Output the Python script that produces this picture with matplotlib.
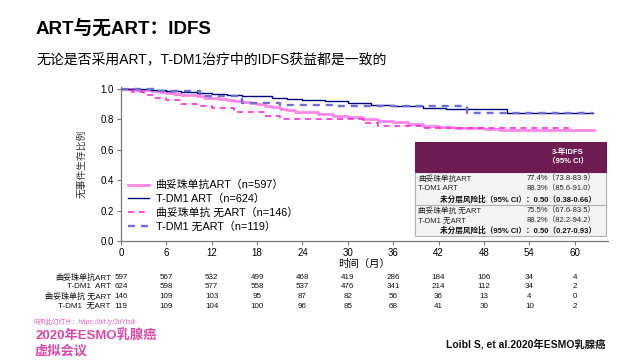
"""
ART与无ART：IDFS 生存曲线重绘
"""
import matplotlib
matplotlib.use("Agg")
import matplotlib.pyplot as plt
from matplotlib.patches import Rectangle
from matplotlib.lines import Line2D

plt.rcParams['font.family'] = ['Liberation Sans', 'Noto Sans CJK SC', 'DejaVu Sans']

# 曲线数据（从图中读取，阶梯函数）
t_tras_art = [0, 1, 2, 3, 4, 5, 6, 7, 8, 9, 10, 11, 12, 13, 14, 15, 16, 17, 18,
              19, 20, 21, 22, 23, 24, 26, 28, 30, 32, 34, 36, 38, 40, 42, 44, 46, 48, 50, 62.6]
s_tras_art = [1.0, .996, .992, .988, .983, .977, .970, .965, .960, .955, .948, .940, .935,
              .930, .925, .918, .910, .904, .898, .888, .878, .866, .856, .848, .843, .832,
              .822, .815, .802, .790, .778, .766, .756, .748, .740, .738, .733, .727, .727]

t_tdm1_art = [0, 2, 4, 6, 8, 10, 12, 14, 16, 18, 20, 22, 24, 27, 30, 33, 36, 40, 43, 46, 51, 62.4]
s_tdm1_art = [1.0, .995, .99, .985, .98, .972, .966, .960, .954, .948, .940, .932, .925,
              .915, .905, .895, .886, .874, .868, .864, .838, .838]

t_tras_noart = [0, 1.5, 3, 4.5, 6, 8, 10, 12, 15, 19, 21, 32, 34, 40, 59.3]
s_tras_noart = [1.0, .98, .957, .94, .924, .898, .885, .87, .843, .82, .798, .773, .757, .74, .74]

t_tdm1_noart = [0, 5, 10.5, 16, 21, 28, 45.7, 62.4]
s_tdm1_noart = [1.0, .985, .95, .907, .89, .884, .84, .84]

legend_labels = ["曲妥珠单抗ART（n=597）", "T-DM1 ART（n=624）",
                 "曲妥珠单抗 无ART（n=146）", "T-DM1 无ART（n=119）"]

x_ticks = [0, 6, 12, 18, 24, 30, 36, 42, 48, 54, 60]
risk_labels = ["曲妥珠单抗ART", "T-DM1  ART", "曲妥珠单抗 无ART", "T-DM1  无ART"]
risk_counts = [
    [597, 567, 532, 499, 468, 419, 286, 184, 106, 34, 4],
    [624, 598, 577, 558, 537, 476, 341, 214, 112, 34, 2],
    [146, 109, 103, 95, 87, 82, 56, 36, 13, 4, 0],
    [119, 109, 104, 100, 96, 85, 68, 41, 30, 10, 2],
]

table_rows = [
    ("曲妥珠单抗ART", "77.4%（73.8-83.9）"),
    ("T-DM1 ART", "88.3%（85.6-91.0）"),
    ("曲妥珠单抗 无ART", "75.5%（67.6-83.5）"),
    ("T-DM1 无ART", "88.2%（82.2-94.2）"),
]
hr_rows = ["未分层风险比（95% CI）：0.50（0.38-0.66）",
           "未分层风险比（95% CI）：0.50（0.27-0.93）"]

W, H = 640, 360


def fx(px):
    return px / W


def fy(py):
    return 1 - py / H


fig = plt.figure(figsize=(6.4, 3.6), dpi=100)
fig.patch.set_facecolor("white")

# 标题
fig.text(fx(36), fy(29), "ART与无ART：IDFS", fontsize=13.5, fontweight="bold",
         va="center", ha="left")
fig.text(fx(36), fy(59), "无论是否采用ART，T-DM1治疗中的IDFS获益都是一致的",
         fontsize=10, va="center", ha="left")

ax = fig.add_axes([fx(121), fy(241), fx(608) - fx(121), fy(87) - fy(241)])

c_tras_art = "#ff86e6"
c_tdm1_art = "#00007a"
c_tras_noart = "#f51fd6"
c_tdm1_noart = "#6e6ed2"

ax.step(t_tras_art, s_tras_art, where="post", color=c_tras_art, lw=2.0)
ax.step(t_tdm1_art, s_tdm1_art, where="post", color=c_tdm1_art, lw=1.0)
ax.step(t_tras_noart, s_tras_noart, where="post", color=c_tras_noart, lw=1.1,
        linestyle=(0, (4, 3)))
ax.step(t_tdm1_noart, s_tdm1_noart, where="post", color=c_tdm1_noart, lw=1.7,
        linestyle=(0, (3, 2.5)))

ax.set_xlim(0, 64.4)
ax.set_ylim(0, 1.01)
ax.set_xticks(x_ticks)
ax.set_yticks([0, 0.2, 0.4, 0.6, 0.8, 1.0])
ax.set_yticklabels(["0.0", "0.2", "0.4", "0.6", "0.8", "1.0"])
ax.tick_params(labelsize=7, length=3, width=0.8, color="#777777", pad=2)
for side in ["top", "right"]:
    ax.spines[side].set_visible(False)
for side in ["left", "bottom"]:
    ax.spines[side].set_color("#777777")
    ax.spines[side].set_linewidth(0.9)
ax.set_xlabel("时间（月）", fontsize=7.5, labelpad=1)
ax.set_ylabel("无事件生存比例", fontsize=7, color="#333333", labelpad=10)

handles = [
    Line2D([], [], color=c_tras_art, lw=2.0),
    Line2D([], [], color=c_tdm1_art, lw=1.0),
    Line2D([], [], color=c_tras_noart, lw=1.1, linestyle=(0, (4, 3))),
    Line2D([], [], color=c_tdm1_noart, lw=1.7, linestyle=(0, (3, 2.5))),
]
ax.legend(handles, legend_labels, loc="lower left", bbox_to_anchor=(0.0, 0.02),
          frameon=False, fontsize=7.8, handlelength=2.0, handletextpad=0.6,
          labelspacing=0.3, borderaxespad=0.2)

# 3年IDFS 表格
bx0, bx1 = 415, 606
fig.add_artist(Rectangle((fx(bx0), fy(236)), fx(bx1) - fx(bx0), fy(172) - fy(236),
                         facecolor="#f3f3f3", edgecolor="#b0b0b0", lw=0.8))
fig.add_artist(Rectangle((fx(bx0), fy(172)), fx(bx1) - fx(bx0), fy(142) - fy(172),
                         facecolor="#6e1b50", edgecolor="#6e1b50", lw=0.8))
fig.add_artist(Line2D([fx(bx0), fx(bx1)], [fy(205), fy(205)], color="#b0b0b0", lw=0.8))
fig.text(fx(568), fy(152), "3-年IDFS", color="white", fontsize=5.5,
         fontweight="bold", ha="center", va="center")
fig.text(fx(568), fy(162), "（95% CI）", color="white", fontsize=5.5,
         fontweight="bold", ha="center", va="center")

row_y = [179, 189, 211, 221]
for (name, val), yy in zip(table_rows, row_y):
    fig.text(fx(418), fy(yy), name, fontsize=5.5, color="#222222", va="center", ha="left")
    fig.text(fx(596), fy(yy), val, fontsize=5.5, color="#222222", va="center", ha="right")
for txt, yy in zip(hr_rows, [200, 231]):
    fig.text(fx(596), fy(yy), txt, fontsize=5.5, fontweight="bold", color="#111111",
             va="center", ha="right")

# 风险人数表
risk_y = [277.5, 287, 296.5, 306]
for lab, counts, yy in zip(risk_labels, risk_counts, risk_y):
    fig.text(fx(111), fy(yy), lab, fontsize=5.8, ha="right", va="center", color="#111111")
    for t, n in zip(x_ticks, counts):
        xp = ax.transData.transform((t, 0))[0]
        fig.text(xp / W, fy(yy), str(n), fontsize=5.8, ha="center", va="center",
                 color="#111111")

# 底部文字
fig.text(fx(33), fy(322), "访问此幻灯片：https://bit.ly/3dYtslk", fontsize=4.8,
         color="#e060b8", style="italic", ha="left", va="center")
fig.text(fx(35), fy(335), "2020年ESMO乳腺癌", fontsize=9.5, fontweight="bold",
         color="#d94aa8", ha="left", va="center")
fig.text(fx(35), fy(351), "虚拟会议", fontsize=9.5, fontweight="bold",
         color="#d94aa8", ha="left", va="center")
fig.text(fx(606), fy(344), "Loibl S, et al.2020年ESMO乳腺癌", fontsize=7.5,
         fontweight="bold", color="#111111", ha="right", va="center")

fig.savefig("out.png", dpi=100, facecolor="white")
